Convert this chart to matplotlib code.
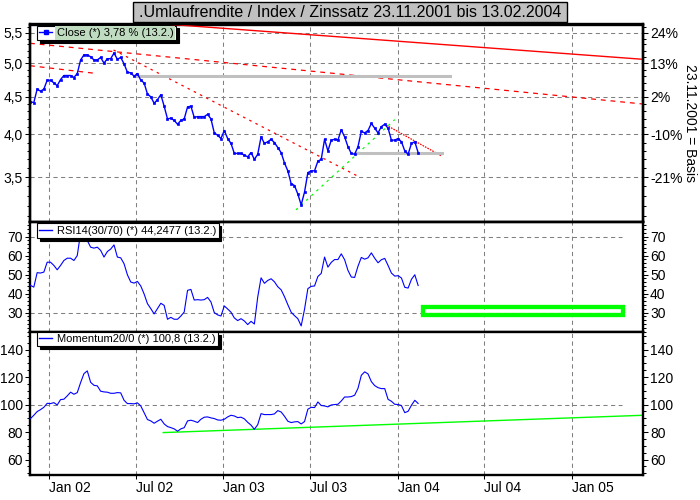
import matplotlib
matplotlib.use('Agg')
import matplotlib.pyplot as plt
import numpy as np
import pandas as pd
from matplotlib.ticker import FixedLocator, MultipleLocator, NullFormatter, FixedFormatter
from matplotlib.patches import Rectangle
from matplotlib.lines import Line2D

plt.rcParams['font.family'] = ['Liberation Sans', 'DejaVu Sans']
plt.rcParams['lines.scale_dashes'] = False

# ---------------- data ----------------
title = '.Umlaufrendite / Index / Zinssatz 23.11.2001 bis 13.02.2004'
start_date = '2001-11-23'
x_start, x_end = '2001-11-22', '2005-05-29'

close = [4.43, 4.42, 4.61, 4.58, 4.61, 4.74, 4.74, 4.70, 4.66, 4.75,
         4.81, 4.81, 4.81, 4.78, 4.84, 5.05, 5.13, 5.13, 5.10, 5.05,
         5.05, 5.09, 5.00, 5.07, 5.07, 5.16, 5.06, 5.09, 4.99, 4.86,
         4.85, 4.80, 4.84, 4.74, 4.70, 4.54, 4.50, 4.41, 4.46, 4.53,
         4.37, 4.20, 4.21, 4.18, 4.13, 4.18, 4.20, 4.36, 4.37, 4.22,
         4.23, 4.23, 4.23, 4.26, 4.20, 4.02, 3.99, 3.95, 4.05, 3.95,
         3.89, 3.77, 3.77, 3.77, 3.75, 3.73, 3.78, 3.70, 3.76, 3.97,
         3.89, 3.91, 3.94, 3.90, 3.84, 3.78, 3.66, 3.57, 3.43, 3.41,
         3.32, 3.21, 3.34, 3.55, 3.57, 3.57, 3.68, 3.70, 3.94, 3.80,
         3.93, 3.94, 3.93, 4.06, 3.97, 3.85, 3.77, 3.76, 3.85, 4.04,
         4.02, 4.05, 4.14, 4.08, 4.02, 4.10, 4.13, 4.08, 3.93, 3.93,
         3.95, 3.91, 3.80, 3.76, 3.89, 3.91, 3.78]

rsi = [44.3, 43.4, 51.0, 50.8, 51.3, 56.5, 56.5, 54.8, 52.5, 54.8,
       57.4, 58.6, 58.6, 57.4, 60.0, 72.0, 73.0, 67.9, 64.4, 63.9,
       64.4, 62.7, 59.2, 62.1, 63.4, 65.6, 59.2, 58.8, 55.7, 49.9,
       46.1, 45.5, 46.4, 44.0, 39.8, 34.7, 32.1, 29.3, 32.1, 34.9,
       33.8, 26.5, 27.5, 26.5, 26.5, 28.2, 30.3, 41.7, 42.2, 36.6,
       36.8, 36.6, 36.8, 38.0, 35.6, 30.0, 28.8, 28.2, 33.5, 31.9,
       30.2, 27.2, 25.8, 26.8, 25.6, 23.7, 25.4, 24.0, 38.2, 48.3,
       45.4, 46.9, 47.8, 46.2, 43.6, 42.0, 38.4, 34.2, 30.2, 28.4,
       26.8, 23.0, 31.7, 42.6, 43.8, 44.0, 49.0, 50.6, 59.2, 53.9,
       56.4, 57.9, 57.9, 60.9, 57.8, 52.2, 48.7, 48.5, 54.4, 59.0,
       58.1, 58.8, 61.4, 58.6, 56.2, 57.8, 58.5, 54.8, 50.8, 49.2,
       49.4, 48.2, 43.3, 42.9, 47.5, 49.9, 44.25]

momentum = [89.8, 92.2, 94.9, 96.3, 98.0, 100.9, 100.7, 101.4, 99.7, 103.6,
            103.9, 106.3, 109.0, 107.5, 108.7, 116.0, 122.5, 124.5, 116.2, 114.0,
            113.6, 109.7, 109.2, 109.0, 108.2, 108.2, 108.7, 108.5, 103.1, 100.7,
            100.7, 100.5, 101.2, 99.0, 94.1, 89.1, 88.1, 86.4, 87.9, 89.3,
            85.9, 84.0, 83.2, 82.3, 80.6, 82.3, 83.2, 88.1, 88.6, 87.9,
            86.9, 89.3, 90.8, 91.0, 90.3, 89.8, 88.8, 88.6, 89.3, 91.0,
            92.2, 91.7, 90.5, 90.8, 89.6, 87.1, 85.0, 82.0, 85.4, 93.4,
            92.7, 92.7, 92.7, 93.2, 95.6, 94.6, 91.5, 87.9, 86.9, 87.4,
            87.6, 85.9, 87.6, 96.6, 98.0, 97.8, 101.9, 99.3, 99.0, 98.3,
            99.7, 100.0, 100.2, 102.6, 105.5, 105.5, 105.8, 106.8, 111.8, 121.3,
            123.8, 122.3, 116.7, 113.8, 112.3, 111.6, 111.6, 103.8, 102.4, 100.2,
            100.0, 99.3, 94.1, 95.1, 99.5, 103.1, 100.8]

x_tick_dates = ['2002-01-01', '2002-07-01', '2003-01-01', '2003-07-01',
                '2004-01-01', '2004-07-01', '2005-01-01']
x_tick_labels = ['Jan 02', 'Jul 02', 'Jan 03', 'Jul 03', 'Jan 04', 'Jul 04', 'Jan 05']

price_ticks = [3.5, 4.0, 4.5, 5.0, 5.5]
price_labels = ['3,5', '4,0', '4,5', '5,0', '5,5']
rsi_ticks = [30, 40, 50, 60, 70]
mom_ticks = [60, 80, 100, 120, 140]

# trend lines (dates, values)
tl_solid_d, tl_solid_v = ['2002-08-01', '2005-05-29'], [5.67, 5.06]
tl_upper_d, tl_upper_v = ['2001-11-22', '2005-05-29'], [5.32, 4.40]
tl_lower_d, tl_lower_v = ['2001-11-22', '2002-04-11'], [4.96, 4.84]
tl_fall_d, tl_fall_v = ['2002-05-16', '2003-10-10'], [5.21, 3.51]
tl_green_d, tl_green_v = ['2003-06-02', '2003-12-26'], [3.16, 4.19]
tl_fall2_d, tl_fall2_v = ['2003-12-08', '2004-04-02'], [4.12, 3.74]
hl1_d, hl1_v = ['2002-07-01', '2004-04-19'], 4.81
hl2_d, hl2_v = ['2003-10-04', '2004-04-02'], 3.77
mom_trend_d, mom_trend_v = ['2002-08-28', '2005-05-29'], [79.6, 92.2]
rsi_box_d, rsi_box_v = ['2004-02-23', '2005-04-18'], [29.0, 33.2]
level_end = '2005-04-16'
rsi_levels = [30, 70]
mom_levels = [100]

legend_close = 'Close (*) 3,78 % (13.2.)'
legend_rsi = 'RSI14(30/70) (*) 44,2477 (13.2.)'
legend_mom = 'Momentum20/0 (*) 100,8 (13.2.)'
basis_label = '23.11.2001 = Basis'

# ---------------- layout ----------------
W, H = 700, 500
fig = plt.figure(figsize=(7, 5), dpi=100)
fig.patch.set_facecolor('white')

def rect(x0, y0, x1, y1):
    return [x0 / W, 1 - y1 / H, (x1 - x0) / W, (y1 - y0) / H]

ax1 = fig.add_axes(rect(30, 24.5, 643, 221.5))
ax2 = fig.add_axes(rect(30, 221.5, 643, 332), sharex=ax1)
ax3 = fig.add_axes(rect(30, 332, 643, 474.5), sharex=ax1)

dates = pd.date_range(start_date, periods=len(close), freq='7D')
td = lambda lst: pd.to_datetime(lst)

GRID = dict(color='#808080', lw=0.75, ls=(0, (3, 2.5)))
BLUE = '#0000ff'
RED = '#ff0000'
GREEN = '#00ff00'

xs = pd.Timestamp(x_start)
xe = pd.Timestamp(x_end)

for ax in (ax1, ax2, ax3):
    ax.set_xlim(xs, xe)
    ax.set_axisbelow(True)
    for s in ax.spines.values():
        s.set_linewidth(1.7)
        s.set_color('black')
    ax.grid(axis='x', **GRID)

ax3.set_xticks(td(x_tick_dates))
ax3.set_xticklabels(x_tick_labels)
for ax in (ax1, ax2):
    ax.tick_params(axis='x', bottom=False, labelbottom=False)
ax3.tick_params(axis='x', direction='out', length=3, width=0.75, pad=2, labelsize=10)
for lbl in ax3.get_xticklabels():
    lbl.set_ha('left')

# ---- top panel ----
ax1.set_yscale('log')
ax1.set_ylim(3.047, 5.642)
ax1.yaxis.set_major_locator(FixedLocator(price_ticks))
ax1.yaxis.set_major_formatter(FixedFormatter(price_labels))
ax1.yaxis.set_minor_locator(FixedLocator(np.round(np.arange(3.1, 5.65, 0.1), 2)))
ax1.yaxis.set_minor_formatter(NullFormatter())
ax1.grid(axis='y', which='major', **GRID)
ax1.tick_params(axis='y', which='major', direction='out', length=3.6, width=0.75, pad=1.5, labelsize=10)
ax1.tick_params(axis='y', which='minor', direction='out', length=2, width=0.75)

ax1r = ax1.twinx()
ax1r.set_yscale('log')
ax1r.set_ylim(ax1.get_ylim())
base = close[0]
pct_labels = ['%d%%' % round((v / base - 1) * 100) for v in price_ticks]
ax1r.yaxis.set_major_locator(FixedLocator(price_ticks))
ax1r.yaxis.set_major_formatter(FixedFormatter(pct_labels))
ax1r.yaxis.set_minor_locator(FixedLocator(np.round(np.arange(3.1, 5.65, 0.1), 2)))
ax1r.yaxis.set_minor_formatter(NullFormatter())
ax1r.tick_params(axis='y', which='major', direction='out', length=3.6, width=0.75, pad=1.5, labelsize=10)
ax1r.tick_params(axis='y', which='minor', direction='out', length=2, width=0.75)
for s in ax1r.spines.values():
    s.set_linewidth(1.7)

ax1.plot(td(tl_solid_d), tl_solid_v, color=RED, lw=1.0, zorder=3)
ax1.plot(td(tl_upper_d), tl_upper_v, color=RED, lw=0.9, ls=(0, (3.5, 3.5)), zorder=3)
ax1.plot(td(tl_lower_d), tl_lower_v, color=RED, lw=0.9, ls=(0, (3.5, 3.5)), zorder=3)
ax1.plot(td(tl_fall_d), tl_fall_v, color=RED, lw=0.9, ls=(0, (1.8, 3.2)), zorder=3)
ax1.plot(td(tl_green_d), tl_green_v, color=GREEN, lw=0.9, ls=(0, (1.8, 3.2)), zorder=3)
ax1.plot(td(tl_fall2_d), tl_fall2_v, color=RED, lw=0.9, ls=(0, (1.2, 0.8)), zorder=3)
ax1.plot(td(hl1_d), [hl1_v, hl1_v], color='#c0c0c0', lw=2.2, zorder=3)
ax1.plot(td(hl2_d), [hl2_v, hl2_v], color='#c0c0c0', lw=2.2, zorder=3)
l_close, = ax1.plot(dates, close, color=BLUE, lw=1.0, marker='s', ms=2.0, mew=0.5,
                    mfc=BLUE, mec=BLUE, zorder=4)

LEG = dict(loc='upper left', borderaxespad=0, frameon=True, fancybox=False,
           shadow={'color': 'black', 'alpha': 1}, framealpha=1, edgecolor='black',
           fontsize=8, handlelength=1.15, handletextpad=0.45, borderpad=0.2)

h_close = Line2D([], [], color=BLUE, lw=1.0, marker='s', ms=2.2, mfc=BLUE, mec=BLUE)
leg1 = ax1r.legend([h_close], [legend_close], bbox_to_anchor=(7 / 613, 1 - 1.2 / 197), **LEG)
leg1.get_frame().set_linewidth(0.8)
for t in leg1.get_texts():
    t.set_bbox(dict(facecolor='#c0dcc0', edgecolor='none', pad=1.2))

fig.text(690 / W, 1 - 122.8 / H, basis_label, rotation=270, ha='center', va='center', fontsize=10)

# ---- RSI panel ----
ax2.set_ylim(19.8, 77.9)
ax2.yaxis.set_major_locator(FixedLocator(rsi_ticks))
ax2.yaxis.set_minor_locator(MultipleLocator(2))
ax2.tick_params(axis='y', which='both', left=True, right=True, labelleft=True, labelright=True)
ax2.tick_params(axis='y', which='major', direction='out', length=3.6, width=0.75, pad=1.5, labelsize=10)
ax2.tick_params(axis='y', which='minor', direction='out', length=2, width=0.75)
for lv in rsi_levels:
    ax2.plot([xs, pd.Timestamp(level_end)], [lv, lv], zorder=1, **GRID)
ax2.plot(dates, rsi, color=BLUE, lw=0.8, zorder=3)
bd = td(rsi_box_d)
ax2.add_patch(Rectangle((bd[0], rsi_box_v[0]), bd[1] - bd[0], rsi_box_v[1] - rsi_box_v[0],
                        fill=False, edgecolor=GREEN, lw=3.1, zorder=4))
h_line = Line2D([], [], color=BLUE, lw=1.0)
leg2 = ax2.legend([h_line], [legend_rsi], bbox_to_anchor=(7 / 613, 1 - 1.8 / 110.5), **LEG)
leg2.get_frame().set_linewidth(0.8)

# ---- Momentum panel ----
ax3.set_ylim(49.1, 152.8)
ax3.yaxis.set_major_locator(FixedLocator(mom_ticks))
ax3.yaxis.set_minor_locator(MultipleLocator(5))
ax3.tick_params(axis='y', which='both', left=True, right=True, labelleft=True, labelright=True)
ax3.tick_params(axis='y', which='major', direction='out', length=3.6, width=0.75, pad=1.5, labelsize=10)
ax3.tick_params(axis='y', which='minor', direction='out', length=2, width=0.75)
for lv in mom_levels:
    ax3.plot([xs, pd.Timestamp(level_end)], [lv, lv], zorder=1, **GRID)
ax3.plot(td(mom_trend_d), mom_trend_v, color=GREEN, lw=1.0, zorder=2)
ax3.plot(dates, momentum, color=BLUE, lw=0.8, zorder=3)
leg3 = ax3.legend([h_line], [legend_mom], bbox_to_anchor=(7 / 613, 1.0), **LEG)
leg3.get_frame().set_linewidth(0.8)

# ---- title box ----
fig.patches.append(Rectangle((133 / W, 1 - 22 / H), 434 / W, 20 / H, transform=fig.transFigure,
                             facecolor='#c0c0c0', edgecolor='black', lw=1.0, zorder=5))
fig.text(350 / W, 1 - 12.5 / H, title, ha='center', va='center', fontsize=11.5, zorder=6)

fig.savefig('out.png', dpi=100)
